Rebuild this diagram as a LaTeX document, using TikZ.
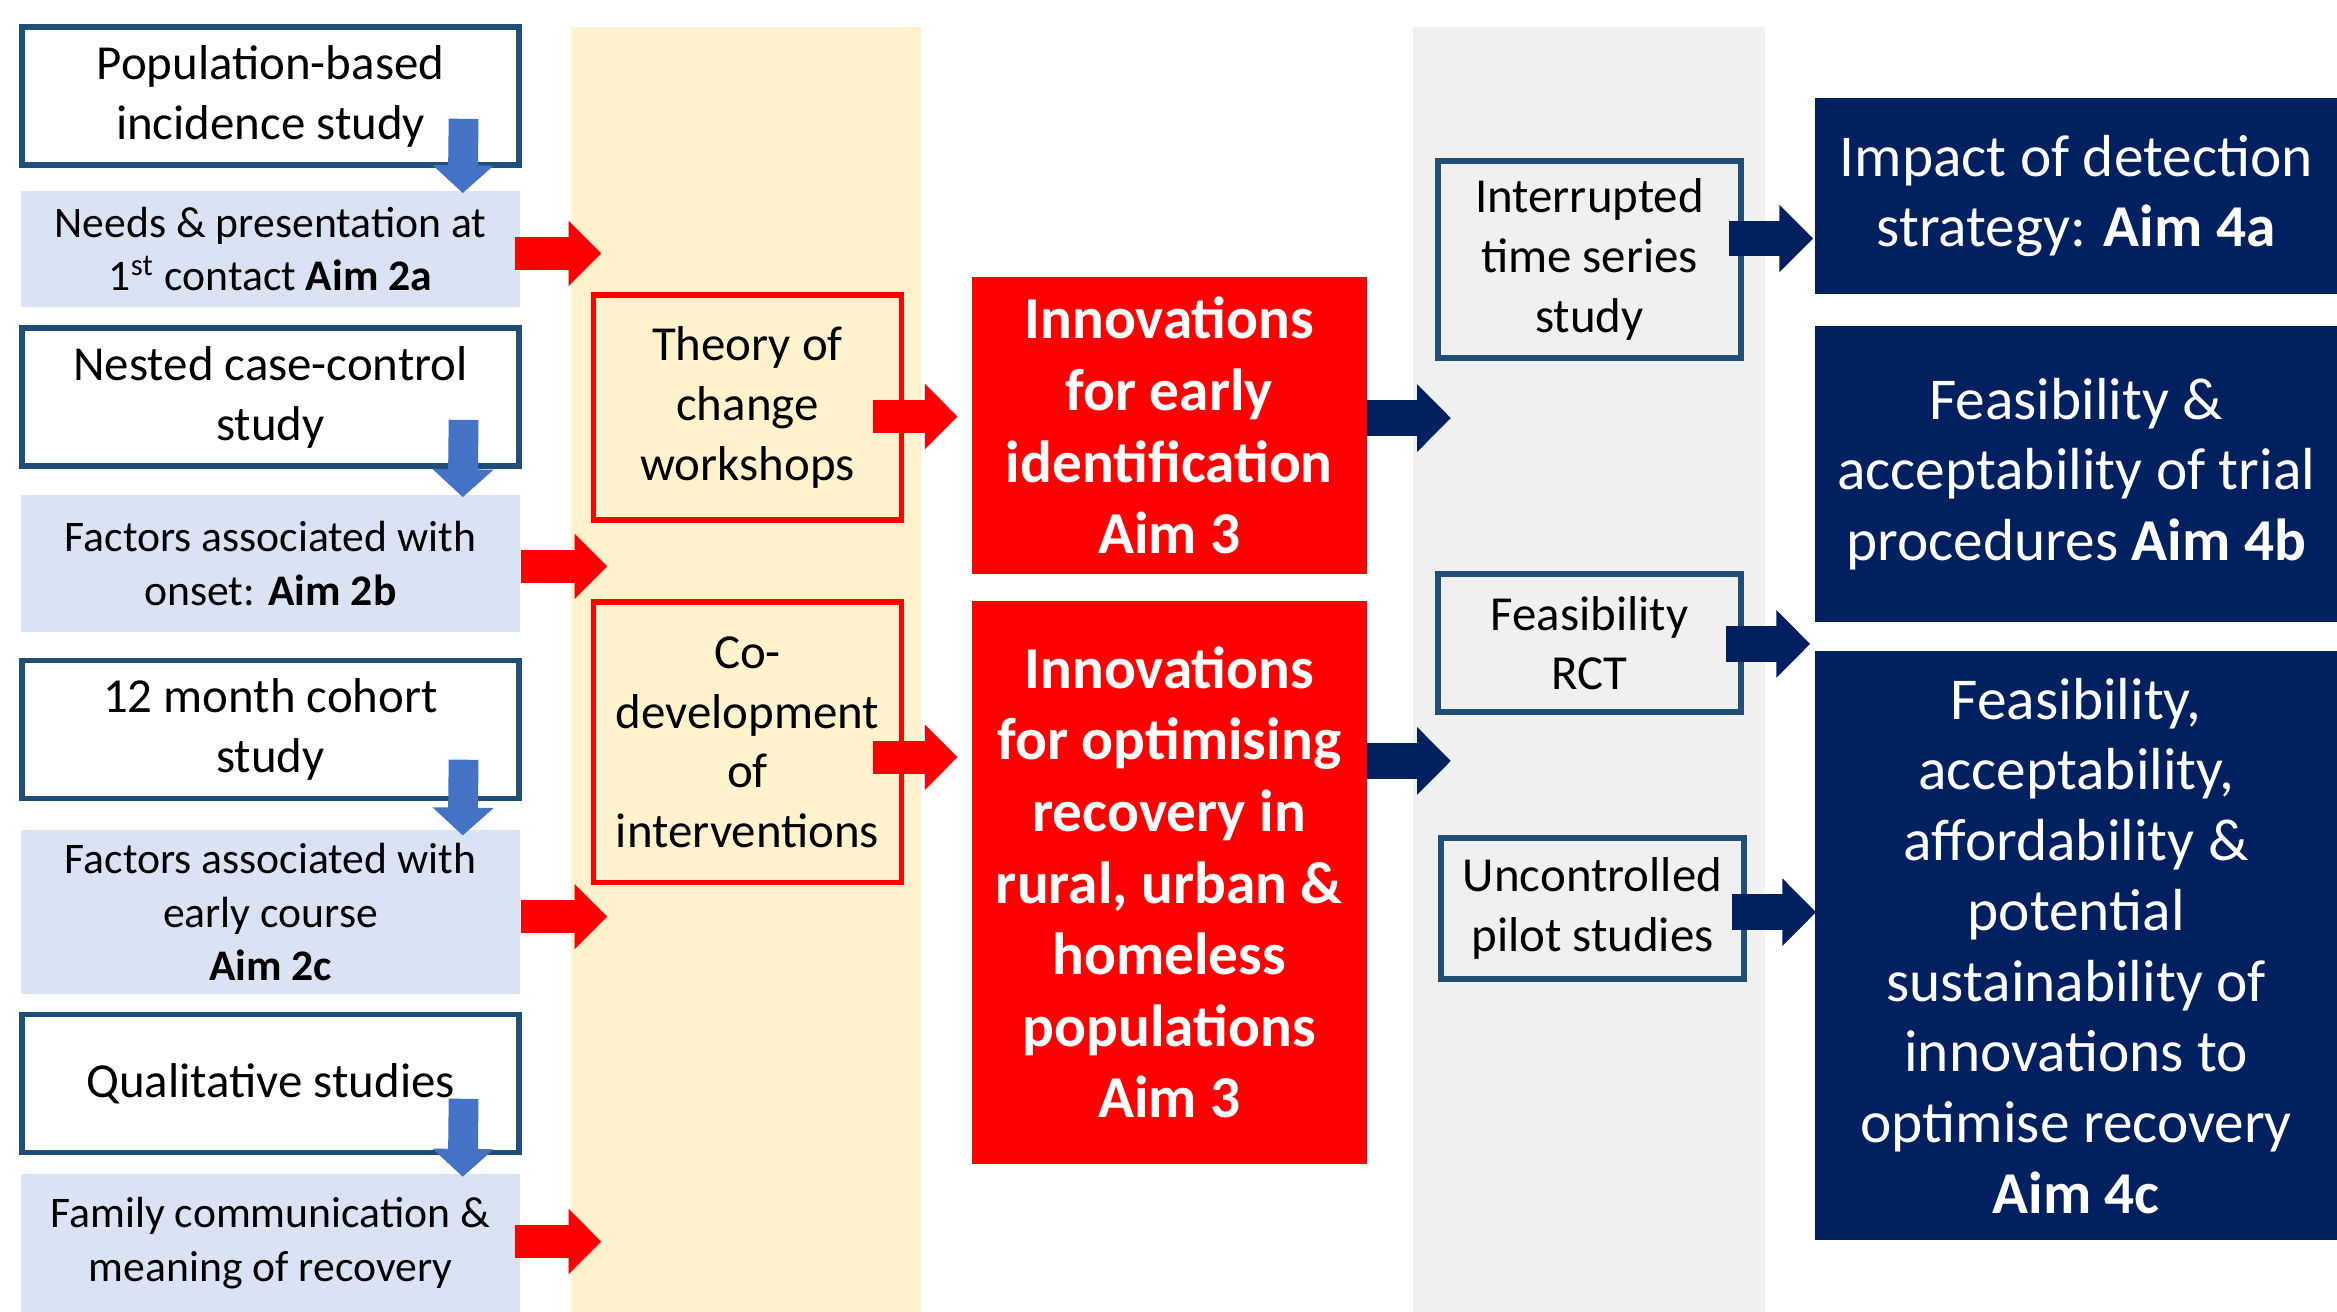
\documentclass[tikz,border=0pt]{standalone}
\usepackage{fontspec}
\setmainfont{Carlito}
\usetikzlibrary{arrows.meta,calc}

\definecolor{studyedge}{RGB}{31,78,121}
\definecolor{findfill}{RGB}{218,227,243}
\definecolor{downblue}{RGB}{68,114,196}
\definecolor{bandtan}{RGB}{255,242,204}
\definecolor{bandgrey}{RGB}{240,240,240}
\definecolor{aimnavy}{RGB}{0,32,96}
\definecolor{innred}{RGB}{255,0,0}

\tikzset{
  study/.style={draw=studyedge, line width=1.6pt, fill=white, align=center,
    minimum width=5.0cm, minimum height=1.39cm, font=\fontsize{14}{17.1}\selectfont},
  finding/.style={fill=findfill, align=center, minimum width=5.025cm,
    font=\fontsize{12.5}{15.4}\selectfont},
  workshop/.style={draw=innred, line width=1.6pt, fill=bandtan, align=center,
    minimum width=3.1cm, font=\fontsize{14}{17.1}\selectfont},
  innov/.style={fill=innred, text=white, align=center, minimum width=3.975cm,
    font=\bfseries\fontsize{17}{20.5}\selectfont},
  evalbox/.style={draw=studyedge, line width=1.6pt, fill=bandgrey, align=center,
    minimum width=3.05cm, font=\fontsize{14}{17.1}\selectfont},
  aim/.style={fill=aimnavy, text=white, align=center, minimum width=5.25cm,
    font=\fontsize{17}{20.2}\selectfont},
  downarr/.style={draw=downblue, line width=0.3cm, -{Triangle[length=0.28cm,width=0.6cm]}},
  redarr/.style={draw=innred, line width=0.33cm, -{Triangle[length=0.33cm,width=0.64cm]}},
  navyarr/.style={draw=aimnavy, line width=0.36cm, -{Triangle[length=0.34cm,width=0.66cm]}},
}

\begin{document}
\begin{tikzpicture}[x=0.015cm, y=-0.015cm]
  \useasboundingbox (0,0) rectangle (1568,880);

  % background bands
  \fill[bandtan]  (383,18) rectangle (618,880);
  \fill[bandgrey] (948,18) rectangle (1184,880);

  % studies and findings
  \node[study]   (A1) at (181.5, 64.5) {Population-based\\incidence study};
  \node[finding, minimum height=1.17cm] (A2) at (181.5,167) {Needs \& presentation at\\1\textsuperscript{st} contact \textbf{Aim 2a}};
  \node[study]   (B1) at (181.5,266.5) {Nested case-control\\study};
  \node[finding, minimum height=1.38cm] (B2) at (181.5,378) {Factors associated with\\onset: \textbf{Aim 2b}};
  \node[study]   (C1) at (181.5,489.5) {12 month cohort\\study};
  \node[finding, minimum height=1.65cm] (C2) at (181.5,612) {Factors associated with\\early course\\\textbf{Aim 2c}};
  \node[study]   (D1) at (181.5,727) {Qualitative studies};
  \node[finding, minimum height=1.38cm] (D2) at (181.5,834) {Family communication \&\\meaning of recovery};

  % workshops
  \node[workshop, minimum height=2.265cm] (toc)   at (501.5,273.5) {Theory of\\change\\workshops};
  \node[workshop, minimum height=2.82cm]  (codev) at (501.5,498) {Co-\\development\\of\\interventions};

  % innovations
  \node[innov, minimum height=2.985cm] (inn1) at (784.5,285.5) {Innovations\\for early\\identification\\Aim 3};
  \node[innov, minimum height=5.67cm]  (inn2) at (784.5,592) {Innovations\\for optimising\\recovery in\\rural, urban \&\\homeless\\populations\\Aim 3};

  % evaluation studies
  \node[evalbox, minimum height=1.98cm] (itss)  at (1066.5,174) {Interrupted\\time series\\study};
  \node[evalbox, minimum height=1.39cm] (rct)   at (1066.5,431.5) {Feasibility\\RCT};
  \node[evalbox, minimum height=1.42cm] (pilot) at (1068.5,609.5) {Uncontrolled\\pilot studies};

  % aims
  \node[aim, minimum height=1.965cm] (aim4a) at (1393,131.5) {Impact of detection\\strategy: \textbf{Aim 4a}};
  \node[aim, minimum height=2.97cm]  (aim4b) at (1393,318) {Feasibility \&\\acceptability of trial\\procedures \textbf{Aim 4b}};
  \node[aim, minimum height=5.925cm] (aim4c) at (1393,634.5) {Feasibility,\\acceptability,\\affordability \&\\potential\\sustainability of\\innovations to\\optimise recovery\\\textbf{Aim 4c}};

  % study -> finding
  \draw[downarr] ($(A1.south east)+(-39,-33)$) -- ($(A2.north east)+(-39,2)$);
  \draw[downarr] ($(B1.south east)+(-39,-33)$) -- ($(B2.north east)+(-39,2)$);
  \draw[downarr] ($(C1.south east)+(-39,-28)$) -- ($(C2.north east)+(-39,4)$);
  \draw[downarr] ($(D1.south east)+(-39,-38)$) -- ($(D2.north east)+(-39,2)$);

  % findings -> workshops
  \draw[redarr] ($(A2.east)+(-4,3)$) -- ++(58,0);
  \draw[redarr] ($(B2.east)+(0,2)$)  -- ++(58,0);
  \draw[redarr] ($(C2.east)+(0,3)$)  -- ++(58,0);
  \draw[redarr] ($(D2.east)+(-4,-1)$) -- ++(58,0);

  % workshops -> innovations
  \draw[redarr] ($(toc.east)+(-21,6)$)    -- ($(toc.east -| inn1.west)+(-9,6)$);
  \draw[redarr] ($(codev.east)+(-21,10)$) -- ($(codev.east -| inn2.west)+(-9,10)$);

  % innovations -> evaluation
  \draw[navyarr] ($(inn1.east)+(0,-5)$)          -- ++(56,0);
  \draw[navyarr] ($(inn2.north east)+(0,108)$)   -- ++(56,0);

  % evaluation -> aims
  \draw[navyarr] ($(itss.east)+(-10,-14)$)  -- ($(itss.east -| aim4a.west)+(-1,-14)$);
  \draw[navyarr] ($(rct.east)+(-12,0.5)$)   -- ($(rct.east -| aim4b.west)+(-3,0.5)$);
  \draw[navyarr] ($(pilot.east)+(-10,2.5)$) -- ($(pilot.east -| aim4c.west)+(1,2.5)$);
\end{tikzpicture}
\end{document}
